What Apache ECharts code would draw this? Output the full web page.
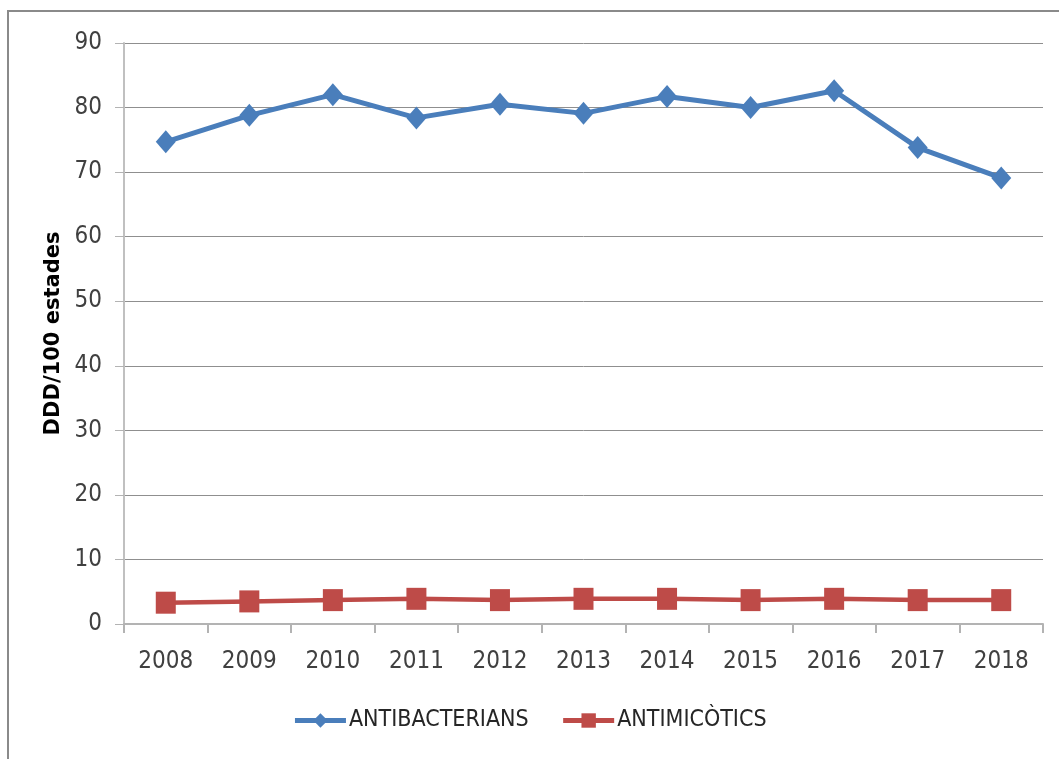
<!DOCTYPE html>
<html>
<head>
<meta charset="utf-8">
<script src="https://cdn.jsdelivr.net/npm/echarts@6/dist/echarts.min.js"></script>
<style>
html,body{margin:0;padding:0;background:#fff;}
#chart{width:1059px;height:759px;}
</style>
</head>
<body>
<div id="chart"></div>
<script>
const years = ['2008','2009','2010','2011','2012','2013','2014','2015','2016','2017','2018'];
const antibacterians = [74.7, 78.8, 82.0, 78.4, 80.5, 79.1, 81.7, 80.0, 82.6, 73.8, 69.1];
const antimicotics = [3.3, 3.5, 3.7, 3.9, 3.7, 3.9, 3.9, 3.7, 3.9, 3.7, 3.7];
const seriesNames = ['ANTIBACTERIANS', 'ANTIMICÒTICS'];
const yAxisTitle = 'DDD/100 estades';

const labelFont = "'Liberation Sans Narrow', 'DejaVu Sans Condensed', sans-serif";
const chart = echarts.init(document.getElementById('chart'), null, {renderer: 'canvas'});
chart.setOption({
  backgroundColor: '#ffffff',
  animation: false,
  graphic: [{
    type: 'rect',
    shape: {x: 8, y: 11, width: 1200, height: 900},
    style: {fill: 'none', stroke: '#8a8a8a', lineWidth: 2},
    silent: true
  }],
  grid: {left: 124, right: 16, top: 43, bottom: 135, containLabel: false},
  legend: {
    bottom: 22,
    left: 'center',
    itemWidth: 51,
    itemHeight: 18,
    itemGap: 32,
    lineStyle: {width: 5},
    textStyle: {fontFamily: labelFont, fontSize: 23, color: '#262626', padding: [0,0,0,-2]},
    data: seriesNames
  },
  xAxis: {
    type: 'category',
    data: years,
    boundaryGap: true,
    axisLine: {lineStyle: {color: '#b3b3b3', width: 2}},
    axisTick: {show: true, alignWithLabel: false, length: 9, lineStyle: {color: '#b3b3b3', width: 2}},
    axisLabel: {fontFamily: labelFont, fontSize: 24, color: '#404040', margin: 26}
  },
  yAxis: {
    type: 'value',
    min: 0, max: 90, interval: 10,
    name: yAxisTitle,
    nameLocation: 'middle',
    nameGap: 53,
    nameTextStyle: {fontFamily: "'DejaVu Sans', sans-serif", fontWeight: 'bold', fontSize: 21, color: '#000'},
    axisLine: {show: true, lineStyle: {color: '#c0c0c0', width: 2}},
    axisTick: {show: true, length: 9, lineStyle: {color: '#b3b3b3', width: 1}},
    axisLabel: {fontFamily: labelFont, fontSize: 24, color: '#404040', margin: 22},
    splitLine: {show: true, lineStyle: {color: '#8f8f8f', width: 1}}
  },
  series: [
    {
      name: seriesNames[0],
      type: 'line',
      data: antibacterians,
      symbol: 'diamond',
      symbolSize: [20, 23],
      lineStyle: {color: '#4a7ebb', width: 5},
      itemStyle: {color: '#4a7ebb'},
      z: 3
    },
    {
      name: seriesNames[1],
      type: 'line',
      data: antimicotics,
      symbol: 'rect',
      symbolSize: [20, 22],
      lineStyle: {color: '#be4b48', width: 4.5},
      itemStyle: {color: '#be4b48'},
      z: 2
    }
  ]
});
</script>
</body>
</html>
